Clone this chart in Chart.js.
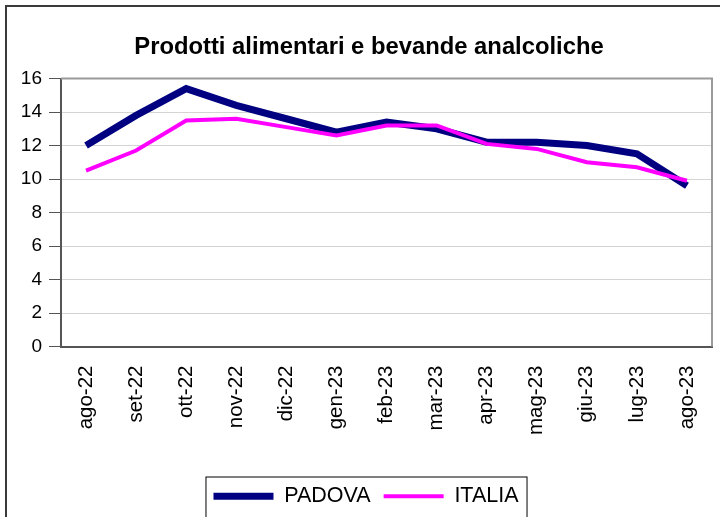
<!DOCTYPE html>
<html>
<head>
<meta charset="utf-8">
<script src="https://cdn.jsdelivr.net/npm/chart.js@4/dist/chart.umd.min.js"></script>
<style>
  html, body { margin: 0; padding: 0; background: #fff; }
  #wrap { position: relative; width: 723px; height: 517px; overflow: hidden; }
  #frame { position: absolute; left: 5px; top: 5px; width: 713px; height: 600px;
           border-top: 2px solid #3a3a3a; border-left: 2px solid #3a3a3a; pointer-events: none; }
</style>
</head>
<body>
<div id="wrap">
  <canvas id="chart" width="723" height="517"></canvas>
  <div id="frame"></div>
</div>
<script>
// data
const months = ['ago-22', 'set-22', 'ott-22', 'nov-22', 'dic-22', 'gen-23', 'feb-23',
                'mar-23', 'apr-23', 'mag-23', 'giu-23', 'lug-23', 'ago-23']
const padova = [12.0, 13.8, 15.4, 14.4, 13.6, 12.8, 13.4, 13.0, 12.2, 12.2, 12.0, 11.5, 9.6]
const italia = [10.5, 11.7, 13.5, 13.6, 13.1, 12.6, 13.2, 13.2, 12.1, 11.8, 11.0, 10.7, 9.9]
const yTicks = [0, 2, 4, 6, 8, 10, 12, 14, 16]

Chart.defaults.font.family = "'Liberation Sans', Arial, sans-serif"
Chart.defaults.color = '#000'

// plot frame (top and right) plus the box round the legend
const frames = {
    id: 'frames',
    afterLayout(chart) {
        chart.legend.left += 7
        chart.legend.right += 7
        chart.titleBlock.left += 10
        chart.titleBlock.right += 10
    },
    beforeDatasetsDraw(chart) {
        const a = chart.chartArea
        const c = chart.ctx
        c.save()
        c.strokeStyle = '#9a9a9a'
        c.lineWidth = 2
        c.beginPath()
        c.moveTo(a.left, a.top)
        c.lineTo(a.right, a.top)
        c.lineTo(a.right, a.bottom)
        c.stroke()
        c.restore()
    },
    afterDraw(chart) {
        const boxes = chart.legend.legendHitBoxes
        if (!boxes || !boxes.length) return
        const c = chart.ctx
        const l = boxes[0].left - 8
        const last = boxes[boxes.length - 1]
        const r = last.left + last.width + 8
        const t = boxes[0].top - 9
        c.save()
        c.strokeStyle = '#000'
        c.lineWidth = 1
        c.strokeRect(l + 0.5, t + 0.5, r - l, 60)
        c.restore()
    }
}

var ctx = document.getElementById('chart').getContext('2d')

var myChart = new Chart(ctx, {
    type: 'line',
    data: {
        labels: months,
        datasets: [{
            label: 'PADOVA',
            data: padova,
            borderColor: '#000080',
            backgroundColor: '#000080',
            borderWidth: 7,
            pointRadius: 0,
            fill: false,
            order: 1
        }, {
            label: 'ITALIA',
            data: italia,
            borderColor: '#ff00ff',
            backgroundColor: '#ff00ff',
            borderWidth: 4,
            pointRadius: 0,
            fill: false,
            order: 0
        }]
    },
    options: {
        responsive: false,
        animation: false,
        layout: { padding: { left: 6, right: 11, top: 0, bottom: 0 } },
        plugins: {
            title: {
                display: true,
                text: 'Prodotti alimentari e bevande analcoliche',
                font: { size: 23.8, weight: 'bold' },
                color: '#000',
                padding: { top: 33, bottom: 17 }
            },
            legend: {
                position: 'bottom',
                labels: {
                    usePointStyle: true,
                    pointStyle: 'line',
                    pointStyleWidth: 60,
                    font: { size: 21.5 },
                    color: '#000',
                    padding: 13,
                    sort: (a, b) => a.datasetIndex - b.datasetIndex
                }
            },
            tooltip: { enabled: false }
        },
        scales: {
            x: {
                offset: true,
                grid: { display: false, drawTicks: false },
                border: { color: '#555', width: 2 },
                ticks: { minRotation: 90, maxRotation: 90, padding: 19, font: { size: 20.5 } },
                afterFit: (scale) => {
                    scale.height = 126
                    scale.paddingLeft = 0
                    scale.paddingRight = 0
                }
            },
            y: {
                min: 0,
                max: 16,
                afterBuildTicks: (scale) => { scale.ticks = yTicks.map(v => ({ value: v })) },
                grid: { color: '#d4d4d4', tickColor: '#555', tickLength: 12 },
                border: { color: '#555', width: 2 },
                ticks: { padding: 7, font: { size: 19 } },
                afterFit: (scale) => { scale.width = 55 }
            }
        }
    },
    plugins: [frames]
})
</script>
</body>
</html>
